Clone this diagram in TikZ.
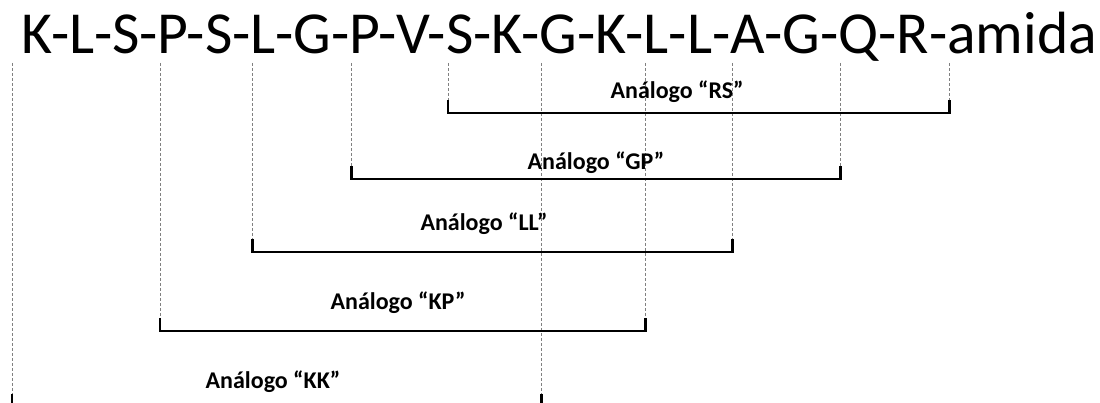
\documentclass[tikz,border=0pt]{standalone}
\usepackage{fontspec}
\setmainfont{Carlito}
\usetikzlibrary{calc,chains,positioning}

\begin{document}
\begin{tikzpicture}[x=1pt,y=1pt,
    res/.style={inner sep=0pt, outer sep=0pt, on chain,
      font=\fontsize{59.6}{64}\selectfont},
    guide/.style={densely dashed, gray, line width=0.7pt},
    bracket/.style={line width=2.6pt},
    lbl/.style={anchor=base, font=\fontsize{24}{28}\selectfont\bfseries},
    node distance=0pt, start chain=going base right]
    \useasboundingbox (0,0) rectangle (1100,403);
    \clip (0,0) rectangle (1100,403);
    \node[res,anchor=base west] (r1) at (21,349) {K-};
    \node[res] (r2) {L-};
    \node[res] (r3) {S-};
    \node[res] (r4) {P-};
    \node[res] (r5) {S-};
    \node[res] (r6) {L-};
    \node[res] (r7) {G-};
    \node[res] (r8) {P-};
    \node[res] (r9) {V-};
    \node[res] (r10) {S-};
    \node[res] (r11) {K-};
    \node[res] (r12) {G-};
    \node[res] (r13) {K-};
    \node[res] (r14) {L-};
    \node[res] (r15) {L-};
    \node[res] (r16) {A-};
    \node[res] (r17) {G-};
    \node[res] (r18) {Q-};
    \node[res] (r19) {R-};
    \node[res] (r20) {amida};
    \coordinate (p1) at ($(r1.west)+(-9,0)$);
    \coordinate (p4) at ($(r4.west)+(2,0)$);
    \coordinate (p6) at ($(r6.west)+(2,0)$);
    \coordinate (p8) at ($(r8.west)+(2,0)$);
    \coordinate (p10) at ($(r10.west)+(2,0)$);
    \coordinate (p12) at ($(r12.west)+(2,0)$);
    \coordinate (p14) at ($(r14.west)+(2,0)$);
    \coordinate (p16) at ($(r16.west)+(2,0)$);
    \coordinate (p18) at ($(r18.west)+(2,0)$);
    \coordinate (p20) at ($(r20.west)+(2,0)$);
    \coordinate (top) at (0,340);
    \coordinate (yRS) at (0,290);
    \coordinate (yGP) at (0,224);
    \coordinate (yLL) at (0,151);
    \coordinate (yKP) at (0,72);
    \coordinate (yKK) at (0,-4);
    \draw[guide] (p10 |- top) -- (p10 |- yRS);
    \draw[guide] (p20 |- top) -- (p20 |- yRS);
    \draw[guide] (p8 |- top) -- (p8 |- yGP);
    \draw[guide] (p18 |- top) -- (p18 |- yGP);
    \draw[guide] (p6 |- top) -- (p6 |- yLL);
    \draw[guide] (p16 |- top) -- (p16 |- yLL);
    \draw[guide] (p4 |- top) -- (p4 |- yKP);
    \draw[guide] (p14 |- top) -- (p14 |- yKP);
    \draw[guide] (p1 |- top) -- (p1 |- yKK);
    \draw[guide] (p12 |- top) -- (p12 |- yKK);
    \draw[bracket] ($(p10 |- yRS)+(0,13)$) -- (p10 |- yRS) -- (p20 |- yRS) -- ++(0,13);
    \draw[bracket] ($(p8 |- yGP)+(0,13)$) -- (p8 |- yGP) -- (p18 |- yGP) -- ++(0,13);
    \draw[bracket] ($(p6 |- yLL)+(0,13)$) -- (p6 |- yLL) -- (p16 |- yLL) -- ++(0,13);
    \draw[bracket] ($(p4 |- yKP)+(0,13)$) -- (p4 |- yKP) -- (p14 |- yKP) -- ++(0,13);
    \draw[bracket] ($(p1 |- yKK)+(0,13)$) -- (p1 |- yKK) -- (p12 |- yKK) -- ++(0,13);
    \node[lbl] (aRS) at (677,304) {Análogo “RS”};
    \node[lbl] (aGP) at (596,233) {Análogo “GP”};
    \node[lbl] (aLL) at (484,172) {Análogo “LL”};
    \node[lbl] (aKP) at (398,93) {Análogo “KP”};
    \node[lbl] (aKK) at (273,14) {Análogo “KK”};
\end{tikzpicture}
\end{document}
